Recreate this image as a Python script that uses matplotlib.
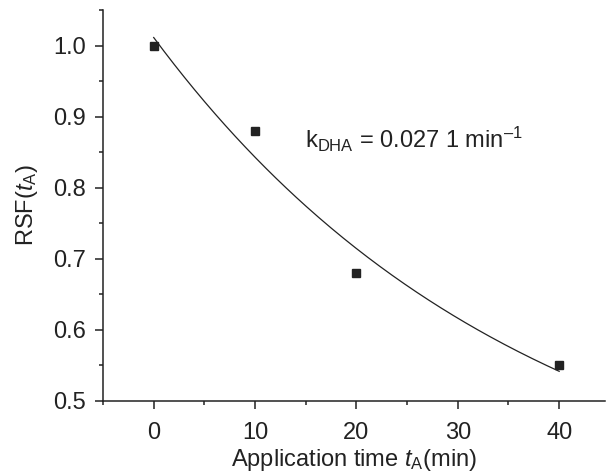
import matplotlib
matplotlib.use("Agg")
import matplotlib.pyplot as plt
import numpy as np
from matplotlib.ticker import MultipleLocator

plt.rcParams['font.family'] = ['Liberation Sans', 'DejaVu Sans']
plt.rcParams['mathtext.fontset'] = 'custom'
plt.rcParams['mathtext.rm'] = 'Liberation Sans'
plt.rcParams['mathtext.it'] = 'Liberation Sans:italic'
plt.rcParams['mathtext.bf'] = 'Liberation Sans:bold'

# measured points
t_app = [0, 10, 20, 40]
rsf = [1.0, 0.88, 0.68, 0.55]
k_dha = 0.0271  # min^-1, from the annotation

# fit y = y0 + A*exp(-k t) with k fixed, linear least squares for y0, A
t = np.array(t_app, dtype=float)
e = np.exp(-k_dha * t)
A, y0 = np.polyfit(e, np.array(rsf), 1)
tf = np.linspace(0, 40, 200)
yf = y0 + A * np.exp(-k_dha * tf)

fs = 17
fig = plt.figure(figsize=(6.06, 4.75), dpi=100)
ax = fig.add_axes([0.17, 0.156, 0.828, 0.823])
ax.plot(tf, yf, color='#222222', linewidth=0.9)
ax.plot(t_app, rsf, 's', color='#222222', markersize=6.4)

ax.set_xlim(-5, 44.5)
ax.set_ylim(0.5, 1.05)
ax.xaxis.set_major_locator(MultipleLocator(10))
ax.xaxis.set_minor_locator(MultipleLocator(5))
ax.yaxis.set_major_locator(MultipleLocator(0.1))
ax.yaxis.set_minor_locator(MultipleLocator(0.05))
ax.yaxis.set_major_formatter(plt.FormatStrFormatter('%.1f'))
ax.tick_params(which='major', direction='out', length=6, width=1.1, labelsize=fs, colors='#222222')
ax.tick_params(axis='y', which='major', pad=6)
ax.tick_params(axis='x', which='major', pad=9)
ax.tick_params(which='minor', direction='out', length=3, width=1.1, colors='#222222')
for s in ['top', 'right']:
    ax.spines[s].set_visible(False)
for s in ['left', 'bottom']:
    ax.spines[s].set_color('#222222')
    ax.spines[s].set_linewidth(1.1)

ax.set_xlabel(r'Application time $\mathit{t}_{\mathrm{A}}$(min)', fontsize=fs, color='#222222', labelpad=2)
ax.set_ylabel(r'RSF($\mathit{t}_{\mathrm{A}}$)', fontsize=fs, color='#222222', labelpad=10)
ax.text(14.9, 0.868, 'k$_{\\mathrm{DHA}}$ = 0.027 1 min$^{\u2013\\mathrm{1}}$', fontsize=fs,
        color='#222222', va='center')

fig.savefig('out.png', dpi=100)
